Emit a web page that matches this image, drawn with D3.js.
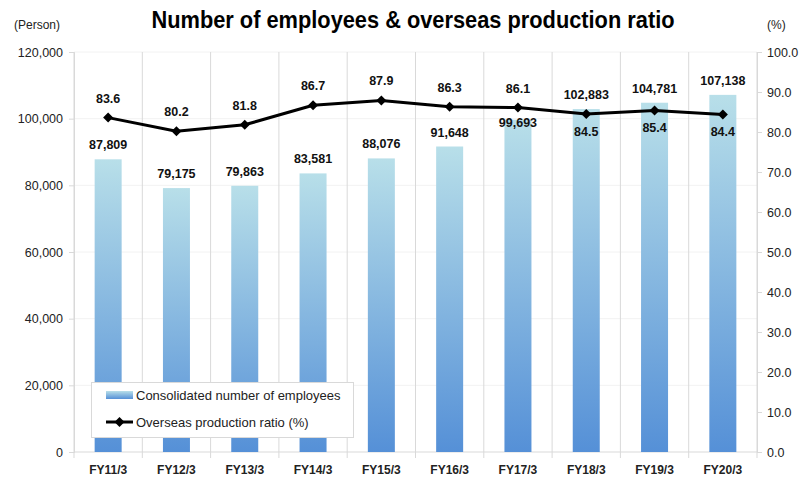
<!DOCTYPE html>
<html><head><meta charset="utf-8">
<script src="https://cdn.jsdelivr.net/npm/d3@7"></script>
<style>body{margin:0;background:#fff}svg{display:block}</style>
</head><body>
<svg id="c" width="809" height="480"></svg>
<script>
const categories = ["FY11/3","FY12/3","FY13/3","FY14/3","FY15/3","FY16/3","FY17/3","FY18/3","FY19/3","FY20/3"];
const employees = [87809, 79175, 79863, 83581, 88076, 91648, 99693, 102883, 104781, 107138];
const ratio = [83.6, 80.2, 81.8, 86.7, 87.9, 86.3, 86.1, 84.5, 85.4, 84.4];
const leftTicks = [0, 20000, 40000, 60000, 80000, 100000, 120000];
const rightTicks = [0,10,20,30,40,50,60,70,80,90,100];

const svg = d3.select("#c");
const FONT = "'Liberation Sans', Arial, sans-serif";
const L = 74, R = 757, T = 52, B = 452;

const x = d3.scaleBand().domain(categories).range([L, R]);
const yL = d3.scaleLinear().domain([0, 120000]).range([B, T]);
const yR = d3.scaleLinear().domain([0, 100]).range([B, T]);

const defs = svg.append("defs");
const g = defs.append("linearGradient").attr("id","barg").attr("x1",0).attr("y1",0).attr("x2",0).attr("y2",1);
g.append("stop").attr("offset","0%").attr("stop-color","#b8dfe9");
g.append("stop").attr("offset","100%").attr("stop-color","#5590d7");

// horizontal faint gridlines
svg.append("g").selectAll("line").data(leftTicks.slice(1)).join("line")
  .attr("x1", L).attr("x2", R).attr("y1", d => yL(d)).attr("y2", d => yL(d))
  .attr("stroke", "#f2f2f2").attr("stroke-width", 1);

// vertical gridlines at band boundaries
const bounds = categories.map(c => x(c)).concat([R]);
svg.append("g").selectAll("line").data(bounds).join("line")
  .attr("x1", d => d).attr("x2", d => d).attr("y1", T).attr("y2", B + 6)
  .attr("stroke", "#d9d9d9").attr("stroke-width", 1);

// left axis
const axL = svg.append("g").attr("transform", `translate(${L},0)`)
  .call(d3.axisLeft(yL).tickValues(leftTicks).tickSize(5).tickPadding(6).tickFormat(d3.format(",")));
axL.select(".domain").attr("stroke", "#d9d9d9");
axL.selectAll(".tick line").attr("stroke", "#d9d9d9");
axL.selectAll("text").attr("font-family", FONT).attr("font-size", 12.5).attr("fill", "#222");

// right axis
const axR = svg.append("g").attr("transform", `translate(${R},0)`)
  .call(d3.axisRight(yR).tickValues(rightTicks).tickSize(5).tickPadding(5).tickFormat(d3.format(".1f")));
axR.select(".domain").attr("stroke", "#d9d9d9");
axR.selectAll(".tick line").attr("stroke", "#d9d9d9");
axR.selectAll("text").attr("font-family", FONT).attr("font-size", 12.5).attr("fill", "#222");

// bottom axis line
svg.append("line").attr("x1", L).attr("x2", R).attr("y1", B).attr("y2", B).attr("stroke", "#d9d9d9");

// x labels
svg.append("g").selectAll("text").data(categories).join("text")
  .attr("x", d => x(d) + x.bandwidth()/2).attr("y", 474)
  .attr("text-anchor", "middle").attr("font-family", FONT).attr("font-weight", "bold")
  .attr("font-size", 12).attr("fill", "#222").text(d => d);

// bars
const bw = 27;
svg.append("g").selectAll("rect").data(employees).join("rect")
  .attr("x", (d,i) => x(categories[i]) + (x.bandwidth()-bw)/2)
  .attr("width", bw)
  .attr("y", d => yL(d)).attr("height", d => B - yL(d))
  .attr("fill", "url(#barg)");

// bar labels
const barShift = {6: 17};
svg.append("g").selectAll("text").data(employees).join("text")
  .attr("x", (d,i) => x(categories[i]) + x.bandwidth()/2)
  .attr("y", (d,i) => yL(d) - 10 + (barShift[i] || 0))
  .attr("text-anchor", "middle").attr("font-family", FONT).attr("font-weight", "bold")
  .attr("font-size", 12.5).attr("fill", "#111").text(d => d3.format(",")(d));

// line
const line = d3.line().x((d,i) => x(categories[i]) + x.bandwidth()/2).y(d => yR(d));
svg.append("path").datum(ratio).attr("d", line).attr("fill", "none")
  .attr("stroke", "#000").attr("stroke-width", 3).attr("stroke-linejoin", "round");
const diamond = d3.symbol().type(d3.symbolDiamond2).size(64);
svg.append("g").selectAll("path").data(ratio).join("path")
  .attr("d", diamond)
  .attr("transform", (d,i) => `translate(${x(categories[i]) + x.bandwidth()/2},${yR(d)})`)
  .attr("fill", "#000");

// ratio labels
svg.append("g").selectAll("text").data(ratio).join("text")
  .attr("x", (d,i) => x(categories[i]) + x.bandwidth()/2)
  .attr("y", (d,i) => i < 7 ? yR(d) - 15 : yR(d) + 22)
  .attr("text-anchor", "middle").attr("font-family", FONT).attr("font-weight", "bold")
  .attr("font-size", 12.5).attr("fill", "#111").text(d => d3.format(".1f")(d));

// title
svg.append("text").attr("x", 413).attr("y", 28).attr("text-anchor", "middle")
  .attr("font-family", "'Liberation Sans Narrow', 'Liberation Sans', sans-serif")
  .attr("font-weight", "bold").attr("font-size", 24).attr("fill", "#000")
  .attr("textLength", 523).attr("lengthAdjust", "spacingAndGlyphs")
  .text("Number of employees & overseas production ratio");

// unit labels
svg.append("text").attr("x", 14).attr("y", 29).attr("font-family", FONT).attr("font-size", 12)
  .attr("fill", "#222").text("(Person)");
svg.append("text").attr("x", 767).attr("y", 29).attr("font-family", FONT).attr("font-size", 12)
  .attr("fill", "#222").text("(%)");

// legend
const lg = svg.append("g");
lg.append("rect").attr("x", 91.5).attr("y", 382.5).attr("width", 262).attr("height", 55)
  .attr("fill", "#fff").attr("stroke", "#d9d9d9");
lg.append("rect").attr("x", 106).attr("y", 391).attr("width", 27).attr("height", 8).attr("fill", "url(#barg)");
lg.append("text").attr("x", 136).attr("y", 400).attr("font-family", FONT).attr("font-size", 13)
  .attr("fill", "#222").text("Consolidated number of employees");
lg.append("line").attr("x1", 106).attr("x2", 133).attr("y1", 422).attr("y2", 422)
  .attr("stroke", "#000").attr("stroke-width", 3);
lg.append("path").attr("d", diamond).attr("transform", "translate(119.5,422)").attr("fill", "#000");
lg.append("text").attr("x", 136).attr("y", 427).attr("font-family", FONT).attr("font-size", 13)
  .attr("fill", "#222").text("Overseas production ratio (%)");
</script>
</body></html>
